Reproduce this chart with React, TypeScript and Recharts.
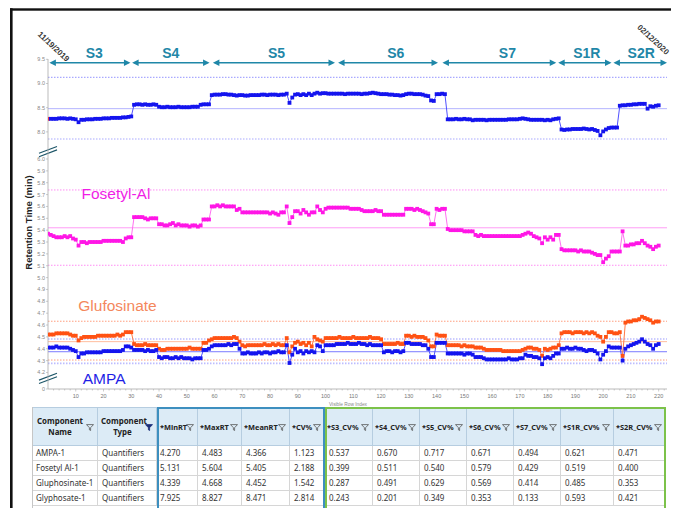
import React from 'react';
import { LineChart, Line, XAxis, YAxis, ReferenceLine, ReferenceArea } from 'recharts';

// ---------- series values (retention time, min), one per visible row index 0..220 ----------
const glyphosateRT = [
  8.27, 8.27, 8.27, 8.27, 8.28, 8.28, 8.28, 8.27, 8.28, 8.27, 8.26, 8.20, 8.25, 8.25, 8.26, 8.26, 8.26, 8.27, 8.27, 8.27, 8.28, 8.28, 8.28, 8.29, 8.29, 8.29, 8.29, 8.30, 8.30, 8.31, 8.32,
  8.56, 8.57, 8.57, 8.56, 8.57, 8.56, 8.56, 8.57, 8.56, 8.52, 8.51, 8.51, 8.52, 8.51, 8.51, 8.51, 8.52, 8.51, 8.51, 8.51, 8.51, 8.52, 8.52, 8.52, 8.56, 8.57, 8.57, 8.57,
  8.76, 8.77, 8.77, 8.77, 8.78, 8.78, 8.77, 8.77, 8.76, 8.75, 8.76, 8.76, 8.75, 8.75, 8.76, 8.76, 8.76, 8.76, 8.77, 8.77, 8.76, 8.77, 8.77, 8.77, 8.76, 8.77, 8.77,
  8.79, 8.60, 8.71, 8.77, 8.78, 8.76, 8.78, 8.76, 8.79, 8.76, 8.79, 8.81, 8.79, 8.80, 8.80, 8.79, 8.79, 8.79,
  8.79, 8.79, 8.79, 8.78, 8.79, 8.79, 8.79, 8.79, 8.79, 8.78, 8.79, 8.79, 8.80, 8.81, 8.80, 8.79, 8.78, 8.78, 8.78, 8.77, 8.77, 8.76, 8.76, 8.75, 8.76, 8.78, 8.79, 8.79, 8.78, 8.78, 8.78, 8.77, 8.75, 8.74, 8.65, 8.64, 8.78, 8.78, 8.79, 8.78,
  8.26, 8.26, 8.26, 8.27, 8.26, 8.26, 8.27, 8.26, 8.26, 8.24, 8.25, 8.25, 8.25, 8.25, 8.24, 8.25, 8.25, 8.25, 8.25, 8.25, 8.25, 8.25, 8.26, 8.26, 8.26, 8.26, 8.27, 8.28, 8.27, 8.26, 8.25, 8.25, 8.25, 8.25, 8.25, 8.24, 8.25, 8.24, 8.26, 8.27, 8.28,
  8.05, 8.04, 8.05, 8.05, 8.06, 8.06, 8.06, 8.06, 8.07, 8.06, 8.05, 8.06, 8.04, 8.02, 7.93, 8.01, 8.05, 8.08, 8.09, 8.09, 8.09,
  8.54, 8.55, 8.55, 8.56, 8.56, 8.57, 8.57, 8.58, 8.58, 8.58, 8.48, 8.53, 8.52, 8.54, 8.55,
];

const fosetylRT = [
  5.37, 5.36, 5.35, 5.34, 5.34, 5.34, 5.35, 5.34, 5.35, 5.33, 5.32, 5.27, 5.30, 5.30, 5.29, 5.30, 5.30, 5.30, 5.30, 5.30, 5.31, 5.31, 5.31, 5.31, 5.31, 5.31, 5.31, 5.30, 5.33, 5.34, 5.34,
  5.51, 5.51, 5.51, 5.51, 5.50, 5.49, 5.50, 5.50, 5.50, 5.45, 5.45, 5.44, 5.44, 5.45, 5.46, 5.44, 5.45, 5.44, 5.44, 5.44, 5.43, 5.44, 5.44, 5.43, 5.44, 5.49, 5.49, 5.49,
  5.60, 5.60, 5.61, 5.60, 5.61, 5.60, 5.60, 5.60, 5.60, 5.57, 5.58, 5.55, 5.55, 5.55, 5.55, 5.55, 5.55, 5.55, 5.55, 5.55, 5.55, 5.54, 5.55, 5.54, 5.53, 5.55, 5.55,
  5.60, 5.46, 5.51, 5.56, 5.56, 5.54, 5.57, 5.55, 5.53, 5.55, 5.55, 5.60, 5.57, 5.55, 5.58, 5.59, 5.59, 5.59,
  5.59, 5.59, 5.59, 5.59, 5.59, 5.58, 5.58, 5.58, 5.58, 5.57, 5.56, 5.56, 5.56, 5.56, 5.57, 5.56, 5.56, 5.53, 5.53, 5.53, 5.53, 5.53, 5.53, 5.53, 5.53, 5.58, 5.58, 5.58, 5.57, 5.58, 5.57, 5.56, 5.55, 5.54, 5.45, 5.45, 5.58, 5.57, 5.58, 5.58,
  5.41, 5.40, 5.40, 5.40, 5.40, 5.40, 5.39, 5.39, 5.39, 5.39, 5.36, 5.35, 5.36, 5.35, 5.35, 5.35, 5.35, 5.35, 5.35, 5.35, 5.35, 5.35, 5.35, 5.35, 5.35, 5.35, 5.35, 5.36, 5.37, 5.38, 5.37, 5.35, 5.34, 5.33, 5.29, 5.34, 5.32, 5.34, 5.32, 5.36, 5.36,
  5.24, 5.23, 5.23, 5.23, 5.23, 5.23, 5.22, 5.23, 5.22, 5.22, 5.22, 5.21, 5.20, 5.19, 5.19, 5.13, 5.16, 5.18, 5.22, 5.22, 5.22,
  5.22, 5.39, 5.27, 5.27, 5.28, 5.28, 5.29, 5.29, 5.31, 5.29, 5.27, 5.26, 5.24, 5.26, 5.27,
];

const glufosinateRT = [
  4.52, 4.52, 4.52, 4.53, 4.53, 4.53, 4.53, 4.53, 4.52, 4.51, 4.51, 4.47, 4.49, 4.50, 4.50, 4.50, 4.50, 4.50, 4.51, 4.51, 4.51, 4.51, 4.51, 4.51, 4.51, 4.52, 4.51, 4.52, 4.54, 4.54, 4.54,
  4.44, 4.43, 4.43, 4.43, 4.44, 4.43, 4.43, 4.43, 4.43, 4.40, 4.39, 4.39, 4.40, 4.40, 4.40, 4.40, 4.40, 4.40, 4.40, 4.40, 4.41, 4.40, 4.40, 4.40, 4.40, 4.45, 4.45, 4.47,
  4.48, 4.49, 4.49, 4.49, 4.49, 4.49, 4.49, 4.49, 4.50, 4.49, 4.46, 4.43, 4.42, 4.43, 4.43, 4.43, 4.43, 4.43, 4.43, 4.44, 4.43, 4.43, 4.44, 4.43, 4.44, 4.43, 4.43,
  4.49, 4.37, 4.42, 4.45, 4.46, 4.44, 4.45, 4.43, 4.45, 4.42, 4.50, 4.48, 4.47, 4.46, 4.49, 4.49, 4.49, 4.49,
  4.49, 4.50, 4.49, 4.49, 4.49, 4.49, 4.50, 4.49, 4.49, 4.49, 4.49, 4.49, 4.50, 4.49, 4.49, 4.49, 4.48, 4.44, 4.44, 4.44, 4.44, 4.44, 4.45, 4.44, 4.44, 4.51, 4.51, 4.50, 4.51, 4.50, 4.50, 4.50, 4.49, 4.47, 4.42, 4.42, 4.52, 4.51, 4.51, 4.51,
  4.43, 4.43, 4.43, 4.43, 4.43, 4.42, 4.43, 4.42, 4.42, 4.42, 4.41, 4.41, 4.41, 4.40, 4.39, 4.39, 4.39, 4.39, 4.39, 4.39, 4.38, 4.38, 4.38, 4.38, 4.38, 4.38, 4.38, 4.39, 4.40, 4.41, 4.41, 4.40, 4.40, 4.39, 4.34, 4.40, 4.39, 4.40, 4.41, 4.41, 4.43,
  4.53, 4.54, 4.54, 4.54, 4.53, 4.54, 4.54, 4.54, 4.53, 4.54, 4.53, 4.54, 4.53, 4.51, 4.50, 4.46, 4.50, 4.54, 4.54, 4.53, 4.53,
  4.54, 4.34, 4.62, 4.63, 4.63, 4.64, 4.64, 4.65, 4.67, 4.66, 4.65, 4.64, 4.62, 4.63, 4.63,
];

const ampaRT = [
  4.41, 4.41, 4.41, 4.42, 4.41, 4.41, 4.41, 4.41, 4.40, 4.39, 4.38, 4.33, 4.36, 4.36, 4.37, 4.37, 4.37, 4.37, 4.37, 4.37, 4.38, 4.38, 4.38, 4.38, 4.38, 4.38, 4.38, 4.39, 4.42, 4.42, 4.41,
  4.39, 4.39, 4.39, 4.39, 4.38, 4.39, 4.38, 4.38, 4.39, 4.33, 4.32, 4.33, 4.33, 4.32, 4.32, 4.33, 4.32, 4.33, 4.32, 4.32, 4.32, 4.31, 4.32, 4.32, 4.32, 4.39, 4.39, 4.40,
  4.42, 4.43, 4.43, 4.43, 4.43, 4.43, 4.44, 4.43, 4.44, 4.44, 4.40, 4.36, 4.36, 4.37, 4.36, 4.36, 4.36, 4.37, 4.36, 4.37, 4.37, 4.36, 4.37, 4.37, 4.38, 4.37, 4.37,
  4.43, 4.28, 4.35, 4.40, 4.37, 4.38, 4.36, 4.38, 4.37, 4.38, 4.37, 4.43, 4.42, 4.38, 4.43, 4.43, 4.43, 4.43,
  4.44, 4.44, 4.44, 4.44, 4.45, 4.44, 4.44, 4.44, 4.45, 4.44, 4.44, 4.43, 4.44, 4.43, 4.43, 4.43, 4.43, 4.37, 4.38, 4.38, 4.37, 4.38, 4.38, 4.37, 4.38, 4.45, 4.45, 4.44, 4.44, 4.44, 4.44, 4.43, 4.43, 4.40, 4.33, 4.33, 4.45, 4.45, 4.45, 4.45,
  4.36, 4.36, 4.36, 4.36, 4.36, 4.36, 4.35, 4.36, 4.36, 4.35, 4.33, 4.33, 4.33, 4.32, 4.31, 4.31, 4.31, 4.31, 4.31, 4.31, 4.31, 4.31, 4.32, 4.31, 4.31, 4.31, 4.32, 4.32, 4.35, 4.34, 4.34, 4.33, 4.33, 4.32, 4.27, 4.32, 4.33, 4.32, 4.34, 4.36, 4.36,
  4.40, 4.40, 4.41, 4.40, 4.40, 4.41, 4.40, 4.40, 4.39, 4.38, 4.39, 4.39, 4.38, 4.36, 4.31, 4.35, 4.38, 4.42, 4.41, 4.41, 4.41,
  4.41, 4.30, 4.40, 4.42, 4.43, 4.44, 4.45, 4.46, 4.48, 4.46, 4.44, 4.43, 4.40, 4.43, 4.44,
];

// mean and control limits (min)
const glyphosateLimits = [9.128, 8.48, 7.853];
const fosetylLimits = [5.739, 5.42, 5.104];
const glufosinateLimits = [4.632, 4.46, 4.305];
const ampaLimits = [4.482, 4.375, 4.277];

// sequences (in row index units)
const segmentNames = ['S3', 'S4', 'S5', 'S6', 'S7', 'S1R', 'S2R'];
const segmentFrom = [0.5, 30.3, 59.4, 104.5, 142.1, 183.8, 203.7];
const segmentTo = [29.7, 58.2, 103.4, 140.5, 183.1, 203.0, 223.0];
const segmentLabelAt = [16.7, 44.2, 82.3, 125.3, 165.5, 194.1, 213.7];
const startDate = '11/19/2019';
const endDate = '02/12/2020';

// axis tick labels
const upperTicks = [9.5, 9.0, 8.5, 8.0];
const lowerTicks = [6.0, 5.9, 5.8, 5.7, 5.6, 5.5, 5.4, 5.3, 5.2, 5.1, 5.0, 4.9, 4.8, 4.7, 4.6, 4.5, 4.4, 4.3, 4.2];
const baseTicks = [0];
const xTickLabels = [10, 20, 30, 40, 50, 60, 70, 80, 90, 100, 110, 120, 130, 140, 150, 160, 170, 180, 190, 200, 210, 220];

// table
const tableHeaders = ['Component Name', 'Component Type', '*MinRT', '*MaxRT', '*MeanRT', '*CV%', '*S3_CV%', '*S4_CV%', '*S5_CV%', '*S6_CV%', '*S7_CV%', '*S1R_CV%', '*S2R_CV%'];
const tableRows = [
  ['AMPA-1', 'Quantifiers', '4.270', '4.483', '4.366', '1.123', '0.537', '0.670', '0.717', '0.671', '0.494', '0.621', '0.471'],
  ['Fosetyl Al-1', 'Quantifiers', '5.131', '5.604', '5.405', '2.188', '0.399', '0.511', '0.540', '0.579', '0.429', '0.519', '0.400'],
  ['Gluphosinate-1', 'Quantifiers', '4.339', '4.668', '4.452', '1.542', '0.287', '0.491', '0.629', '0.569', '0.414', '0.485', '0.353'],
  ['Glyphosate-1', 'Quantifiers', '7.925', '8.827', '8.471', '2.814', '0.243', '0.201', '0.349', '0.353', '0.133', '0.593', '0.421'],
];

// ---------- broken y scale: value (min) -> display units ----------
const disp = (v: number) => (v >= 7 ? 48.4 * v - 130.1 : v > 1 ? 118.6 * v - 481.6 : 0);
const yTickValues = [...upperTicks, ...lowerTicks, ...baseTicks];
const yTickDisp = yTickValues.map(disp);
const yTickText = yTickValues.map((v) => (v === 0 ? '0' : v.toFixed(1)));
const breakDisp = [237.5, 10.7];

const n = Math.min(glyphosateRT.length, fosetylRT.length, glufosinateRT.length, ampaRT.length);
const chartData = Array.from({ length: n }, (_, i) => ({
  idx: i,
  g: disp(glyphosateRT[i]),
  f: disp(fosetylRT[i]),
  o: disp(glufosinateRT[i]),
  a: disp(ampaRT[i]),
}));
const xTicks = Array.from({ length: 111 }, (_, k) => (k + 1) * 2);

const TEAL = '#1f87a8';
const BLUE = '#1414ee';
const PINK = '#ff16e6';
const ORANGE = '#ff5214';

const squareDot = (fill: string, firstFill?: string) => (p: any) => {
  const { cx, cy, index } = p;
  if (cx == null || cy == null || isNaN(cy)) return <g key={`e${index}`} />;
  return (
    <rect key={`d${index}`} x={cx - 1.9} y={cy - 1.9} width={3.8} height={3.8}
      fill={index === 0 && firstFill ? firstFill : fill} />
  );
};

const XTick = (p: any) => {
  const { x, y, payload } = p;
  const v = payload.value;
  const major = xTickLabels.indexOf(v) >= 0;
  return (
    <g>
      <line x1={x} x2={x} y1={y} y2={y + (major ? 2.5 : 1.5)} stroke="#aaa" strokeWidth={0.6} />
      {major && (
        <text x={x} y={y + 9} fontSize={5.5} fill="#777" textAnchor="middle">{v}</text>
      )}
    </g>
  );
};

const BreakMark = (p: any) => {
  const x = p.x1;
  const y = p.y1;
  return (
    <g>
      <polygon points={`${x - 9},${y + 1.8} ${x + 9},${y - 5} ${x + 9},${y - 1.6} ${x - 9},${y + 5.2}`} fill="#fff" />
      <line x1={x - 9} y1={y + 1.8} x2={x + 9} y2={y - 5} stroke="#1d5668" strokeWidth={1.2} />
      <line x1={x - 9} y1={y + 5.2} x2={x + 9} y2={y - 1.6} stroke="#1d5668" strokeWidth={1.2} />
    </g>
  );
};

const segmentShape = (k: number) => (p: any) => {
  const { x, y, width, height } = p;
  const cy = y + height / 2;
  const x2 = x + width;
  const lx = x + (width * (segmentLabelAt[k] - segmentFrom[k])) / (segmentTo[k] - segmentFrom[k]);
  const h = 6.5;
  const w = 3.3;
  return (
    <g>
      <line x1={x + 2} y1={cy} x2={x2 - 2} y2={cy} stroke={TEAL} strokeWidth={1.5} />
      <polygon points={`${x},${cy} ${x + h},${cy - w} ${x + h},${cy + w}`} fill={TEAL} />
      <polygon points={`${x2},${cy} ${x2 - h},${cy - w} ${x2 - h},${cy + w}`} fill={TEAL} />
      <text x={lx} y={cy - 4.6} textAnchor="middle" fontSize={14} fontWeight={700} fill={TEAL}>
        {segmentNames[k]}
      </text>
      {k === 0 && (
        <text transform={`translate(${x + 4},${cy - 16}) rotate(43)`} textAnchor="middle"
          dominantBaseline="central" fontSize={8} fontWeight={600} fill="#333">{startDate}</text>
      )}
      {k === segmentNames.length - 1 && (
        <text transform={`translate(${x2 - 14},${cy - 23}) rotate(43)`} textAnchor="middle"
          dominantBaseline="central" fontSize={8} fontWeight={600} fill="#333">{endDate}</text>
      )}
    </g>
  );
};

const limitLines = (vals: number[], dotted: string, solid: string, dw = 1) => [
  <ReferenceLine key={`h${vals[0]}`} y={disp(vals[0])} stroke={dotted} strokeWidth={dw} strokeDasharray="1.5 1.5" />,
  <ReferenceLine key={`m${vals[1]}`} y={disp(vals[1])} stroke={solid} strokeWidth={1} />,
  <ReferenceLine key={`l${vals[2]}`} y={disp(vals[2])} stroke={dotted} strokeWidth={dw} strokeDasharray="1.5 1.5" />,
];

const colWidths = [66, 59, 41, 44, 48, 35, 48, 47, 47, 47, 47, 53, 52];
const colLeft = colWidths.map((_, i) => colWidths.slice(0, i).reduce((s, w) => s + w, 0));
const HEADER_H = 39;
const ROW_H = 15.1;

const Funnel = ({ filled }: { filled?: boolean }) => (
  <svg width={8} height={7} viewBox="0 0 8 7" style={{ position: 'absolute', right: 3, top: HEADER_H / 2 - 3.5 }}>
    <path d="M0.5 0.6 H7.5 L4.6 3.7 V6.5 L3.4 5.8 V3.7 Z" fill={filled ? '#1b2f7a' : 'none'}
      stroke={filled ? '#1b2f7a' : '#555'} strokeWidth={0.8} strokeLinejoin="round" />
  </svg>
);

const DataTable = () => {
  const total = colLeft[colLeft.length - 1] + colWidths[colWidths.length - 1];
  return (
    <div style={{ position: 'absolute', left: 32, top: 407, width: total, height: 110,
      fontFamily: '"Noto Sans", "Open Sans", sans-serif', fontSize: 8, color: '#333' }}>
      {tableHeaders.map((h, i) => {
        const twoLine = i < 2;
        const parts = h.split(' ');
        return (
          <div key={h} style={{ position: 'absolute', left: colLeft[i], top: 0, width: colWidths[i], height: HEADER_H,
            boxSizing: 'border-box', background: '#dcebf6', borderRight: '1px solid #b6cde0',
            borderBottom: '1px solid #b6cde0', borderTop: '1px solid #b6cde0', fontWeight: 700, color: '#222',
            fontSize: twoLine ? 7.9 : 7.4 }}>
            {twoLine ? (
              <div style={{ position: 'absolute', left: 3, right: 12, top: 8, textAlign: 'center', lineHeight: '10.5px' }}>
                {parts[0]}<br />{parts[1]}
              </div>
            ) : (
              <div style={{ position: 'absolute', left: i === 2 ? 3 : 2, top: HEADER_H / 2 - 6.5, lineHeight: '12px', whiteSpace: 'nowrap' }}>{h}</div>
            )}
            <Funnel filled={i === 1} />
          </div>
        );
      })}
      {tableRows.map((row, r) =>
        row.map((cell, c) => (
          <div key={`${r}-${c}`} style={{ position: 'absolute', left: colLeft[c], top: HEADER_H + r * ROW_H,
            width: colWidths[c], height: ROW_H, boxSizing: 'border-box', borderRight: '1px solid #d6d6d6',
            borderBottom: '1px solid #d6d6d6', paddingLeft: c === 2 ? 3 : 4, lineHeight: `${ROW_H - 1}px`,
            whiteSpace: 'nowrap', background: '#fff' }}>
            {cell}
          </div>
        ))
      )}
      <div style={{ position: 'absolute', left: 0, top: 0, width: 1, height: 110, background: '#c6c6c6' }} />
      <div style={{ position: 'absolute', left: colLeft[2], top: 0, width: colLeft[6] - colLeft[2], height: 110,
        boxSizing: 'border-box', border: '2px solid #3d8fbf', borderBottom: 'none' }} />
      <div style={{ position: 'absolute', left: colLeft[6], top: 0, width: total - colLeft[6], height: 110,
        boxSizing: 'border-box', border: '2px solid #7cc24a', borderBottom: 'none' }} />
    </div>
  );
};

export default function App() {
  return (
    <div style={{ position: 'absolute', left: 0, top: 0, width: 677, height: 508, overflow: 'hidden',
      background: '#fff', fontFamily: '"Liberation Sans", Arial, sans-serif' }}>
      <div style={{ position: 'absolute', left: 0, top: 0 }}>
        <LineChart width={677} height={420} data={chartData} margin={{ top: 59, right: 10, bottom: 16, left: 28 }}>
          <XAxis type="number" dataKey="idx" domain={[0, 223]} ticks={xTicks} interval={0} allowDataOverflow
            tick={<XTick />} tickLine={false} tickSize={0} tickMargin={0} height={15}
            axisLine={{ stroke: '#aaa', strokeWidth: 0.8 }} />
          <YAxis type="number" domain={[0, 330]} ticks={yTickDisp} interval={0} allowDataOverflow width={20}
            tickFormatter={(d: number) => yTickText[yTickDisp.indexOf(d)] ?? ''}
            tick={{ fontSize: 5.5, fill: '#888' }} tickSize={2} tickMargin={1}
            tickLine={{ stroke: '#aaa', strokeWidth: 0.6 }} axisLine={{ stroke: '#aaa', strokeWidth: 0.8 }} />
          {limitLines(glyphosateLimits, '#a9a9ff', '#b4b4ff', 1.2)}
          {limitLines(fosetylLimits, '#ff8cf4', '#ff9cf6')}
          {limitLines(glufosinateLimits, '#ff9e7e', '#ffbd9e')}
          {limitLines(ampaLimits, '#bcbcff', '#7a7aff', 1.6)}
          {segmentNames.map((s, k) => (
            <ReferenceArea key={s} x1={segmentFrom[k]} x2={segmentTo[k]} y1={325.8} y2={326.8}
              ifOverflow="visible" shape={segmentShape(k)} />
          ))}
          {breakDisp.map((b) => (
            <ReferenceLine key={`b${b}`} y={b} ifOverflow="visible" shape={BreakMark} />
          ))}
          <Line type="linear" dataKey="g" stroke="#5050ff" strokeWidth={1} dot={squareDot(BLUE, '#ff3a3a')}
            activeDot={false} isAnimationActive={false} />
          <Line type="linear" dataKey="f" stroke="#ff70f0" strokeWidth={1} dot={squareDot(PINK)}
            activeDot={false} isAnimationActive={false} />
          <Line type="linear" dataKey="o" stroke="#ff7a48" strokeWidth={1} dot={squareDot(ORANGE)}
            activeDot={false} isAnimationActive={false} />
          <Line type="linear" dataKey="a" stroke="#5050ff" strokeWidth={1} dot={squareDot(BLUE)}
            activeDot={false} isAnimationActive={false} />
        </LineChart>
      </div>
      <svg width={677} height={508} style={{ position: 'absolute', left: 0, top: 0, pointerEvents: 'none' }}>
        <rect x={10} y={8.3} width={661} height={2.4} fill="#111" />
        <rect x={10} y={8.3} width={2.6} height={500} fill="#111" />
        <text transform="translate(28.5,222.5) rotate(-90)" textAnchor="middle" dominantBaseline="central"
          fontSize={9.5} fontWeight={700} fill="#222">Retention Time (min)</text>
        <text x={81.5} y={199} fontSize={15.5} fill="#f01ee6">Fosetyl-Al</text>
        <text x={78.3} y={311.2} fontSize={15.5} fill="#f4875c">Glufosinate</text>
        <text x={82.7} y={383.8} fontSize={15.5} fill="#1f1fe6">AMPA</text>
        <text x={348} y={405.5} fontSize={4.8} fill="#888" textAnchor="middle">Visible Row Index</text>
      </svg>
      <DataTable />
    </div>
  );
}
